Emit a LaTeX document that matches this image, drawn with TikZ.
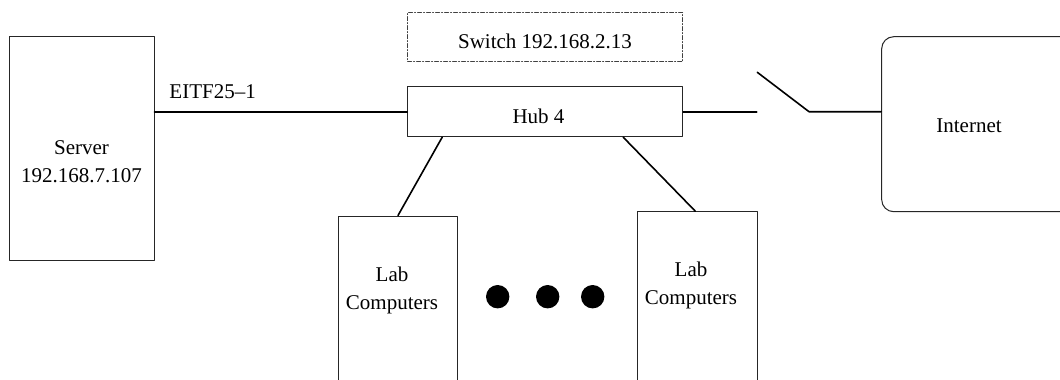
\documentclass[tikz,border=0pt]{standalone}
\usepackage{fontspec}
\setmainfont{Liberation Serif}

\begin{document}
\begin{tikzpicture}[line cap=round,line join=round,x=0.5pt,y=-0.5pt,
	font=\fontsize{10.5}{14}\selectfont,
	box/.style={draw=black!85,line width=0.5pt,inner sep=0pt},
	txt/.style={align=center,inner sep=0pt},
	wire/.style={line width=0.8pt},
	dot/.style={circle,fill=black,inner sep=0pt,minimum size=11.7pt}]
			\useasboundingbox (0,0) rectangle (1060,380);
			\clip (0,0) rectangle (1060,380);
			\node[box,minimum width=72.5pt,minimum height=112pt] (server) at (81.5,148.7) {};
			\node[txt] (servertxt) at (81.5,162) {Server\\192.168.7.107};
			\node[box,minimum width=137.5pt,minimum height=25pt] (hub) at (545.2,111.7) {};
			\node[txt] (hubtxt) at (538.5,116) {Hub 4};
			\node[box,draw=black!75,dash pattern=on 2pt off 1pt on 0.5pt off 1pt,minimum width=137.5pt,minimum height=24.5pt] (switch) at (545,37.2) {};
			\node[txt] (switchtxt) at (545,41.7) {Switch 192.168.2.13};
			\node[box,rounded corners=6pt,minimum width=99pt,minimum height=87.5pt] (inet) at (980.7,124.2) {};
			\node[txt] (inettxt) at (969,125.7) {Internet};
			\node[box,minimum width=59.7pt,minimum height=92pt] (labA) at (398,308) {};
			\node[txt] (labAtxt) at (392,290) {Lab\\Computers};
			\node[box,minimum width=60pt,minimum height=94.2pt] (labB) at (697.3,305.9) {};
			\node[txt] (labBtxt) at (691,285) {Lab\\Computers};
			\node[dot] (dotA) at (497.7,296.7) {};
			\node[dot] (dotB) at (547.7,296.7) {};
			\node[dot] (dotC) at (592.7,296.7) {};
			\coordinate (swopen) at (756.7,111.7);
			\coordinate (swlever) at (757.3,72.3);
			\coordinate (swpivot) at (809,111.7);
			\draw[wire] (hub.west -| server.east) -- node[pos=0.23,above=6pt,inner sep=0pt] {EITF25\textendash 1} (hub.west);
			\draw[wire] (hub.east) -- (swopen);
			\draw[wire] (swlever) -- (swpivot) -- (swpivot -| inet.west);
			\draw[wire] ([xshift=17.5pt]hub.south west) -- (labA.north);
			\draw[wire] ([xshift=-30pt]hub.south east) -- ([xshift=-1pt]labB.north);
\end{tikzpicture}
\end{document}
